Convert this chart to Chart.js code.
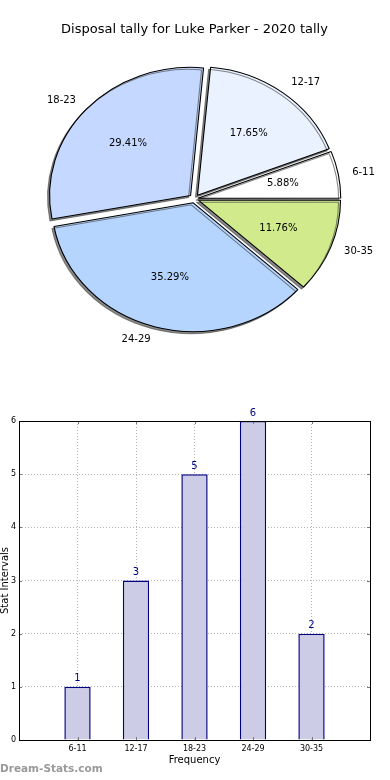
<!DOCTYPE html>
<html>
<head>
<meta charset="utf-8">
<script src="https://cdn.jsdelivr.net/npm/chart.js@4"></script>
<style>
  body { margin: 0; background: #fff; width: 390px; height: 780px; position: relative; overflow: hidden; }
  canvas { position: absolute; left: 0; }
  #pieChart { top: 0; }
  #barChart { top: 390px; }
  .brand { position: absolute; left: 0; top: 762px; font: bold 10.5px 'DejaVu Sans'; color: #999; }
</style>
</head>
<body>
<canvas id="pieChart" width="390" height="390"></canvas>
<canvas id="barChart" width="390" height="390"></canvas>
<div class="brand">Dream-Stats.com</div>
<script>
// data
const categories = ['6-11', '12-17', '18-23', '24-29', '30-35'];
const counts = [1, 3, 5, 6, 2];
const yMin = 0;
const yMax = 6;

const sliceColors = ['#ffffff', '#eaf2ff', '#c5d8ff', '#b5d5ff', '#d0ea8c'];
const total = counts.reduce((a, b) => a + b, 0);

Chart.defaults.font.family = "'DejaVu Sans', sans-serif";
Chart.defaults.color = '#000';

// pie is a bit wider than tall, and slices are pulled out a little
const SX = 1.1;
const EXPLODE = 5;

// Chart.js moves an arc by offset/4 * (1 + fix), so undo that to get EXPLODE px
function arcOffset(v) {
    const circ = 2 * Math.PI * v / total;
    const fix = 1 - Math.sin(Math.min(Math.PI, circ));
    return EXPLODE * 4 / (1 + fix);
}

const pieLook = {
    id: 'pieLook',
    beforeDatasetsDraw(chart) {
        const arc = chart.getDatasetMeta(0).data[0];
        const ctx = chart.ctx;
        ctx.save();
        ctx.translate(arc.x, arc.y);
        ctx.scale(SX, 1);
        ctx.translate(-arc.x, -arc.y);
        ctx.shadowColor = 'rgba(60,60,60,0.6)';
        ctx.shadowOffsetX = -2;
        ctx.shadowOffsetY = 2;
    },
    afterDatasetsDraw(chart) {
        const ctx = chart.ctx;
        ctx.restore();
        const ds = chart.data.datasets[0];
        ctx.save();
        ctx.fillStyle = '#000';
        ctx.font = "10px 'DejaVu Sans'";
        ctx.textBaseline = 'middle';
        chart.getDatasetMeta(0).data.forEach((arc, i) => {
            const mid = (arc.startAngle + arc.endAngle) / 2;
            const c = Math.cos(mid), s = Math.sin(mid);
            const R = arc.outerRadius;
            let r = 1.1 * R + EXPLODE;
            ctx.textAlign = c >= 0 ? 'left' : 'right';
            ctx.fillText(chart.data.labels[i], arc.x + SX * r * c, arc.y + r * s);
            r = 0.6 * R + EXPLODE;
            ctx.textAlign = 'center';
            ctx.fillText((ds.data[i] / total * 100).toFixed(2) + '%', arc.x + SX * r * c, arc.y + r * s);
        });
        ctx.restore();
    }
};

// clockwise from 3 o'clock, so the order is reversed
const pieCounts = counts.slice().reverse();
new Chart(document.getElementById('pieChart'), {
    type: 'pie',
    data: {
        labels: categories.slice().reverse(),
        datasets: [{
            data: pieCounts,
            backgroundColor: sliceColors.slice().reverse(),
            borderColor: '#000',
            borderWidth: 1,
            offset: pieCounts.map(arcOffset)
        }]
    },
    options: {
        responsive: false,
        animation: false,
        events: [],
        rotation: 90,
        radius: 128,
        layout: { padding: { top: 0, left: 0, right: 1, bottom: 40 } },
        plugins: {
            legend: { display: false },
            tooltip: { enabled: false },
            title: {
                display: true,
                text: 'Disposal tally for Luke Parker - 2020 tally',
                color: '#000',
                font: { size: 13, weight: 'normal' },
                padding: { top: 22, bottom: 10 }
            }
        }
    },
    plugins: [pieLook]
});

// frame, inner tick marks and value labels for the bar chart
const barLook = {
    id: 'barLook',
    afterDatasetsDraw(chart) {
        const ctx = chart.ctx;
        const a = chart.chartArea;
        const x = chart.scales.x, y = chart.scales.y;
        ctx.save();
        ctx.strokeStyle = '#777';
        ctx.lineWidth = 1;
        ctx.beginPath();
        x.ticks.forEach(t => {
            const px = Math.round(x.getPixelForValue(t.value)) + 0.5;
            ctx.moveTo(px, a.top); ctx.lineTo(px, a.top + 3);
            ctx.moveTo(px, a.bottom); ctx.lineTo(px, a.bottom - 3);
        });
        y.ticks.forEach(t => {
            const py = Math.round(y.getPixelForValue(t.value)) + 0.5;
            ctx.moveTo(a.left, py); ctx.lineTo(a.left + 3, py);
            ctx.moveTo(a.right, py); ctx.lineTo(a.right - 3, py);
        });
        ctx.stroke();
        ctx.strokeStyle = '#000';
        ctx.strokeRect(Math.round(a.left) + 0.5, Math.round(a.top) + 0.5,
            Math.round(a.right - a.left), Math.round(a.bottom - a.top));

        ctx.fillStyle = '#000080';
        ctx.font = "10px 'DejaVu Sans'";
        ctx.textAlign = 'center';
        ctx.textBaseline = 'bottom';
        chart.getDatasetMeta(0).data.forEach((bar, i) => {
            ctx.fillText(String(counts[i]), bar.x, bar.y - 3);
        });
        ctx.restore();
    }
};

new Chart(document.getElementById('barChart'), {
    type: 'bar',
    data: {
        datasets: [{
            data: categories.map((c, i) => ({ x: i, y: counts[i] })),
            backgroundColor: '#ccccE6',
            borderColor: '#000080',
            borderWidth: 1.5,
            borderSkipped: 'start',
            barPercentage: 0.45,
            categoryPercentage: 1
        }]
    },
    options: {
        responsive: false,
        animation: false,
        events: [],
        layout: { padding: { top: 31, right: 20, left: 0, bottom: 0 } },
        plugins: { legend: { display: false }, tooltip: { enabled: false } },
        scales: {
            x: {
                type: 'linear',
                min: -1,
                max: categories.length,
                offset: false,
                grid: { offset: false, color: '#b4b4b4', drawTicks: false },
                border: { display: false, dash: [1, 2] },
                ticks: {
                    stepSize: 1, autoSkip: false, maxRotation: 0, padding: 4,
                    font: { size: 8 },
                    callback: v => categories[v] ?? ''
                },
                title: { display: true, text: 'Frequency', font: { size: 10 }, padding: { top: 0, bottom: 14 } },
                afterFit(s) { s.height = 40; }
            },
            y: {
                min: yMin,
                max: yMax,
                grid: { color: '#b4b4b4', drawTicks: false },
                border: { display: false, dash: [1, 2] },
                ticks: { stepSize: 1, padding: 3, font: { size: 8 } },
                title: { display: true, text: 'Stat Intervals', font: { size: 10, lineHeight: 1 }, padding: 0 },
                afterFit(s) { s.width = 19; }
            }
        }
    },
    plugins: [barLook]
});
</script>
</body>
</html>
